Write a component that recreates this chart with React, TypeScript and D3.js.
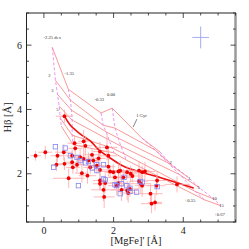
import * as d3 from 'd3'

// model grid: rows = ages, columns = metallicities
const ages = ['1', '2', '3', '5', '10', '15']
const metals = ['-2.25', '-1.35', '-0.33', '0.00', '+0.35', '+0.67']
const gridX = [
  [0.24, 0.7, 1.64, 1.96, 2.81, 3.33],
  [0.33, 0.76, 1.7, 2.04, 3.19, 3.61],
  [0.39, 0.79, 1.79, 2.13, 3.56, 4.13],
  [0.44, 0.81, 1.87, 2.21, 3.9, 4.47],
  [0.47, 0.81, 1.96, 2.3, 4.36, 4.87],
  [0.5, 0.84, 2.01, 2.36, 4.61, 5.07],
]
const gridY = [
  [5.93, 4.63, 3.89, 4.04, 3.11, 2.68],
  [4.91, 4.29, 3.51, 3.42, 2.74, 2.34],
  [4.47, 3.98, 3.3, 3.11, 2.34, 1.9],
  [4.1, 3.67, 3.05, 2.86, 1.97, 1.56],
  [3.73, 3.2, 2.8, 2.62, 1.44, 1.22],
  [3.48, 2.9, 2.65, 2.43, 1.19, 1.01],
]

// bold track
const trackX = [0.59, 0.76, 1.04, 1.33, 1.61, 1.9, 2.33, 3.19, 4.3]
const trackY = [3.79, 3.51, 3.24, 3.02, 2.71, 2.49, 2.21, 1.93, 1.56]

// red points with errors
const redX = [0.59, -0.24, 0.04, 0.39, 0.57, 1.14, 1.19, 0.81, 1.04, 0.59, 0.81, 0.95, 0.83, 1.14, 1.28, 1.42, 1.09, 1.25, 1.33, 1.52, 1.61, 1.85, 1.81, 1.85, 1.61, 1.61, 1.71, 0.71, 1.99, 2.04, 2.09, 2.28, 2.19, 0.36, 2.39, 2.49, 2.54, 2.39, 2.47, 2.73, 2.82, 2.73, 2.78, 2.82, 3.25, 3.23, 3.06, 3.09, 3.19, 3.82, 1.61, 1.38, 1.57, 1.9, 2.14, 1.76, 2.14, 2.23, 2.42, 2.9, 0.88, 0.9, 1.73]
const redY = [3.79, 2.56, 2.67, 2.56, 2.67, 3.01, 2.87, 2.56, 2.52, 2.31, 2.36, 2.28, 2.2, 2.46, 2.41, 2.41, 2.02, 1.94, 2.2, 2.25, 2.12, 2.22, 2.82, 2.56, 1.79, 1.69, 1.5, 1.86, 2.05, 1.89, 1.63, 1.89, 2.1, 2.28, 2.05, 2.0, 1.93, 1.48, 1.53, 2.1, 2.05, 1.77, 1.69, 1.63, 1.79, 1.63, 1.38, 1.07, 1.11, 1.67, 2.69, 2.59, 2.48, 2.07, 2.07, 1.71, 1.71, 1.5, 1.4, 2.07, 2.95, 2.79, 1.28]
const redEx = [0.25, 0.15, 0.2, 0.2, 0.25, 0.15, 0.2, 0.2, 0.3, 0.2, 0.25, 0.2, 0.2, 0.25, 0.3, 0.2, 0.2, 0.25, 0.2, 0.3, 0.25, 0.2, 0.3, 0.25, 0.2, 0.2, 0.35, 0.45, 0.25, 0.2, 0.25, 0.3, 0.2, 0.15, 0.25, 0.2, 0.2, 0.3, 0.25, 0.3, 0.2, 0.25, 0.3, 0.2, 0.3, 0.25, 0.35, 0.3, 0.2, 0.35, 0.2, 0.25, 0.2, 0.25, 0.3, 0.2, 0.25, 0.3, 0.25, 0.3, 0.2, 0.2, 0.3]
const redEy = [0.2, 0.15, 0.2, 0.2, 0.25, 0.35, 0.3, 0.2, 0.25, 0.2, 0.2, 0.25, 0.2, 0.2, 0.25, 0.2, 0.3, 0.25, 0.2, 0.25, 0.2, 0.3, 0.4, 0.3, 0.3, 0.2, 0.35, 0.3, 0.25, 0.2, 0.3, 0.25, 0.3, 0.2, 0.2, 0.25, 0.2, 0.3, 0.25, 0.3, 0.2, 0.25, 0.3, 0.35, 0.25, 0.3, 0.3, 0.3, 0.25, 0.25, 0.3, 0.2, 0.25, 0.2, 0.25, 0.3, 0.25, 0.35, 0.3, 0.3, 0.25, 0.2, 0.35]

// blue open squares
const blueX = [0.33, 0.61, 0.76, 0.95, 1.04, 0.28, 0.99, 1.52, 1.71, 2.09, 2.19, 2.23, 2.38, 2.66, 2.82, 3.25, 2.3, 1.28, 1.52, 1.71, 1.76, 2.47, 2.47, 2.76, 2.04, 1.19, 1.39]
const blueY = [2.84, 2.8, 2.56, 2.51, 2.41, 2.2, 1.63, 2.1, 1.84, 1.63, 1.38, 1.69, 1.63, 1.43, 1.74, 1.6, 1.89, 2.38, 2.28, 2.28, 1.81, 1.55, 1.45, 1.76, 1.66, 2.34, 2.18]

// grid annotations
const noteText = ['-2.25 dex', '-1.35', '-0.33', '0.00', '+0.35', '+0.67', '2', '3', '5', '2', '3', '5', '10', '15', '1 Gyr']
const noteX = [0.24, 0.73, 1.59, 1.93, 4.19, 5.04, 0.16, 0.24, 0.39, 3.64, 4.16, 4.44, 4.9, 5.1, 2.8]
const noteY = [6.21, 5.11, 4.29, 4.46, 1.16, 0.73, 5.03, 4.57, 3.98, 2.34, 1.84, 1.56, 1.22, 1.01, 3.79]

const xTicks = d3.range(-0.5, 5.51, 0.5)
const yTicks = d3.range(0.5, 7.01, 0.5)
const xLabels = [0, 2, 4]
const yLabels = [2, 4, 6]

const W = 249
const H = 249
const L = 26.5
const R = 235.5
const T = 13
const B = 222

export default function App() {
  const x = d3.scaleLinear().domain([-0.5, 5.5]).range([L, R])
  const y = d3.scaleLinear().domain([0.5, 7]).range([B, T])
  const line = d3.line<number[]>().x((d) => x(d[0])).y((d) => y(d[1]))
  const curve = d3
    .line<number[]>()
    .x((d) => x(d[0]))
    .y((d) => y(d[1]))
    .curve(d3.curveCatmullRom)

  const rows = ages.map((_, i) => gridX[i].map((v, j) => [v, gridY[i][j]]))
  const cols = metals.map((_, j) => ages.map((_, i) => [gridX[i][j], gridY[i][j]]))
  const track = trackX.map((v, i) => [v, trackY[i]])
  const isMajor = (v: number) => Math.abs(v / 2 - Math.round(v / 2)) < 1e-6
  const serif = 'Liberation Serif, Times New Roman, serif'

  return (
    <svg width={W} height={H} style={{ position: 'fixed', left: 0, top: 0, background: '#fff' }}>
      <defs>
        <clipPath id="plot">
          <rect x={L} y={T} width={R - L} height={B - T} />
        </clipPath>
      </defs>
      <g clipPath="url(#plot)">
        {rows.map((r, i) => (
          <path key={'r' + i} d={line(r as any) || ''} fill="none" stroke="#f4827c" strokeWidth={0.8} />
        ))}
        {cols.map((c, i) => (
          <path key={'c' + i} d={line(c as any) || ''} fill="none" stroke="#ee77ee" strokeWidth={0.8} strokeDasharray="3,2" />
        ))}
        <path d={curve(track as any) || ''} fill="none" stroke="#ee1111" strokeWidth={1.6} />
        {redX.map((v, i) => (
          <g key={'e' + i} stroke="#ffa4a4" strokeWidth={0.9} opacity={0.85}>
            <line x1={x(v - redEx[i])} x2={x(v + redEx[i])} y1={y(redY[i])} y2={y(redY[i])} />
            <line x1={x(v)} x2={x(v)} y1={y(redY[i] - redEy[i])} y2={y(redY[i] + redEy[i])} />
          </g>
        ))}
        {redX.map((v, i) => (
          <circle key={'p' + i} cx={x(v)} cy={y(redY[i])} r={1.9} fill="#f00000" />
        ))}
        {blueX.map((v, i) => (
          <rect
            key={'b' + i}
            x={x(v) - 2.2}
            y={y(blueY[i]) - 2.2}
            width={4.4}
            height={4.4}
            fill="none"
            stroke="#8585f0"
            strokeWidth={0.8}
          />
        ))}
        {/* typical error */}
        <g stroke="#a8acef" strokeWidth={1}>
          <line x1={x(4.5 - 0.24)} x2={x(4.5 + 0.24)} y1={y(6.24)} y2={y(6.24)} />
          <line x1={x(4.5)} x2={x(4.5)} y1={y(6.24 - 0.34)} y2={y(6.24 + 0.34)} />
        </g>
        <line x1={x(2.67)} y1={y(3.7)} x2={x(2.56)} y2={y(3.45)} stroke="#333" strokeWidth={0.6} />
        {noteText.map((t, i) => (
          <text
            key={'n' + i}
            x={x(noteX[i])}
            y={y(noteY[i])}
            fontSize={4.6}
            fontFamily={serif}
            fill="#333"
            textAnchor="middle"
            dominantBaseline="middle"
          >
            {t}
          </text>
        ))}
      </g>

      {/* frame and ticks */}
      <rect x={L} y={T} width={R - L} height={B - T} fill="none" stroke="#222" strokeWidth={1} />
      <line x1={R} x2={R} y1={T} y2={B + 0.5} stroke="#9a9a9a" strokeWidth={2.5} />
      <g stroke="#222" strokeWidth={0.8}>
        {xTicks.map((t) => {
          const len = isMajor(t) ? 5 : 2.5
          return (
            <g key={'xt' + t}>
              <line x1={x(t)} x2={x(t)} y1={B} y2={B - len} />
              <line x1={x(t)} x2={x(t)} y1={T} y2={T + len} />
            </g>
          )
        })}
        {yTicks.map((t) => {
          const len = isMajor(t) ? 5 : 2.5
          return (
            <g key={'yt' + t}>
              <line x1={L} x2={L + len} y1={y(t)} y2={y(t)} />
              <line x1={R} x2={R - len} y1={y(t)} y2={y(t)} />
            </g>
          )
        })}
      </g>
      {xLabels.map((t) => (
        <text key={'xl' + t} x={x(t)} y={B + 12} fontSize={10} fontFamily={serif} textAnchor="middle" fill="#222">
          {t}
        </text>
      ))}
      {yLabels.map((t) => (
        <text key={'yl' + t} x={L - 7} y={y(t) + 3.5} fontSize={10} fontFamily={serif} textAnchor="middle" fill="#222">
          {t}
        </text>
      ))}
      <text x={(L + R) / 2 + 5} y={B + 22} fontSize={10.5} fontFamily={serif} textAnchor="middle" fill="#222">
        [MgFe]' [Å]
      </text>
      <text
        transform={`translate(11,${(T + B) / 2}) rotate(-90)`}
        fontSize={10.5}
        fontFamily={serif}
        textAnchor="middle"
        fill="#222"
      >
        Hβ [Å]
      </text>
    </svg>
  )
}
